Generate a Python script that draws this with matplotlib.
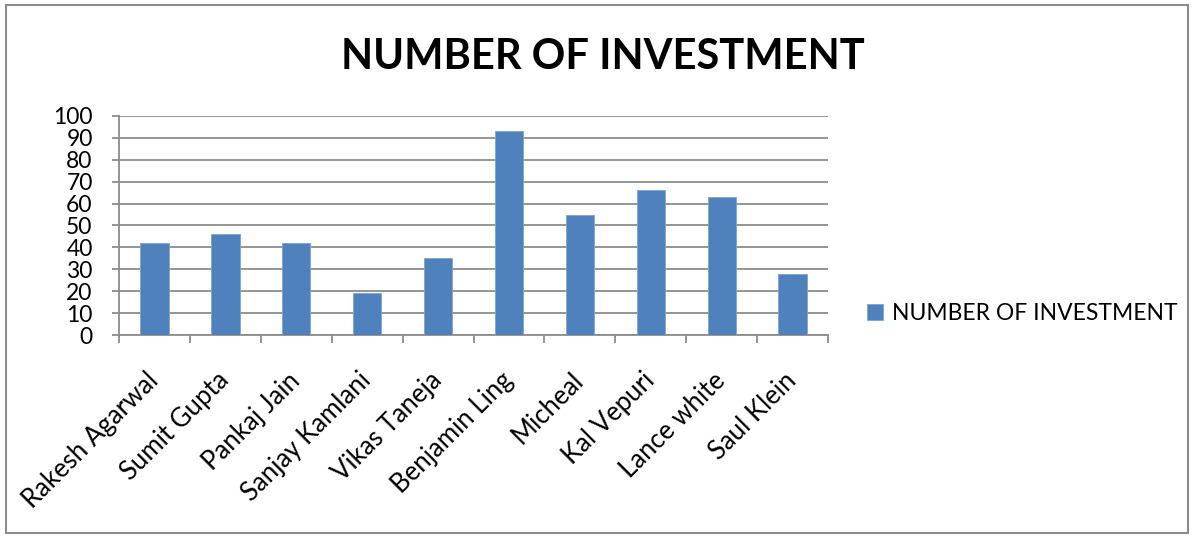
import matplotlib.pyplot as plt
import matplotlib.patches as patches
import numpy as np

# noms et valeurs
names = ['Rakesh Agarwal', 'Sumit Gupta', 'Pankaj Jain', 'Sanjay Kamlani', 'Vikas Taneja',
         'Benjamin Ling', 'Micheal', 'Kal Vepuri', 'Lance white', 'Saul Klein']
investments = [42, 46, 42, 19, 35, 93, 55, 66, 63, 28]
series_name = 'NUMBER OF INVESTMENT'
yticks = list(range(0, 101, 10))

plt.rcParams['font.family'] = ['Lato', 'DejaVu Sans']

fig = plt.figure(figsize=(11.94, 5.36), dpi=100)
ax = fig.add_axes([0.0997, 0.375, 0.5938, 0.4086])

x = np.arange(len(names))
ax.bar(x, investments, width=0.4, color='#4F81BD', edgecolor='#7FA3D0', linewidth=0.6,
       label=series_name, zorder=3)

ax.set_xlim(-0.5, len(names) - 0.5)
ax.set_ylim(0, 100)
ax.set_yticks(yticks)
ax.set_yticklabels([str(v) for v in yticks], fontsize=16.5)
ax.yaxis.grid(True, color='#8c8c8c', linewidth=1.3, zorder=0)

# ticks entre les catégories
ax.set_xticks(np.arange(-0.5, len(names), 1.0))
ax.set_xticklabels([])
ax.set_xticks(x, minor=True)
ax.set_xticklabels(names, minor=True, rotation=45, ha='right', va='center',
                   rotation_mode='anchor', fontsize=18.5)
ax.tick_params(axis='x', which='minor', length=0, pad=30)
ax.tick_params(axis='x', which='major', length=6, color='#8c8c8c', width=1.3)
ax.tick_params(axis='y', length=5, color='#8c8c8c', width=1.3, pad=14)

for side in ['top', 'right']:
    ax.spines[side].set_visible(False)
for side in ['left', 'bottom']:
    ax.spines[side].set_color('#8c8c8c')
    ax.spines[side].set_linewidth(1.3)

fig.text(0.505, 0.893, 'NUMBER OF INVESTMENT', ha='center', va='center',
         fontsize=30, fontweight='bold')

ax.legend(loc='center left', bbox_to_anchor=(0.709, 0.415), bbox_transform=fig.transFigure,
          frameon=False, fontsize=16.5, handlelength=0.7, handleheight=0.7, handletextpad=0.4)

# cadre autour du graphique
fig.patches.append(patches.Rectangle((0.005, 0.005), 0.99, 0.985, transform=fig.transFigure,
                                     fill=False, edgecolor='#8c8c8c', linewidth=1.5))

fig.savefig('out.png', dpi=100)
